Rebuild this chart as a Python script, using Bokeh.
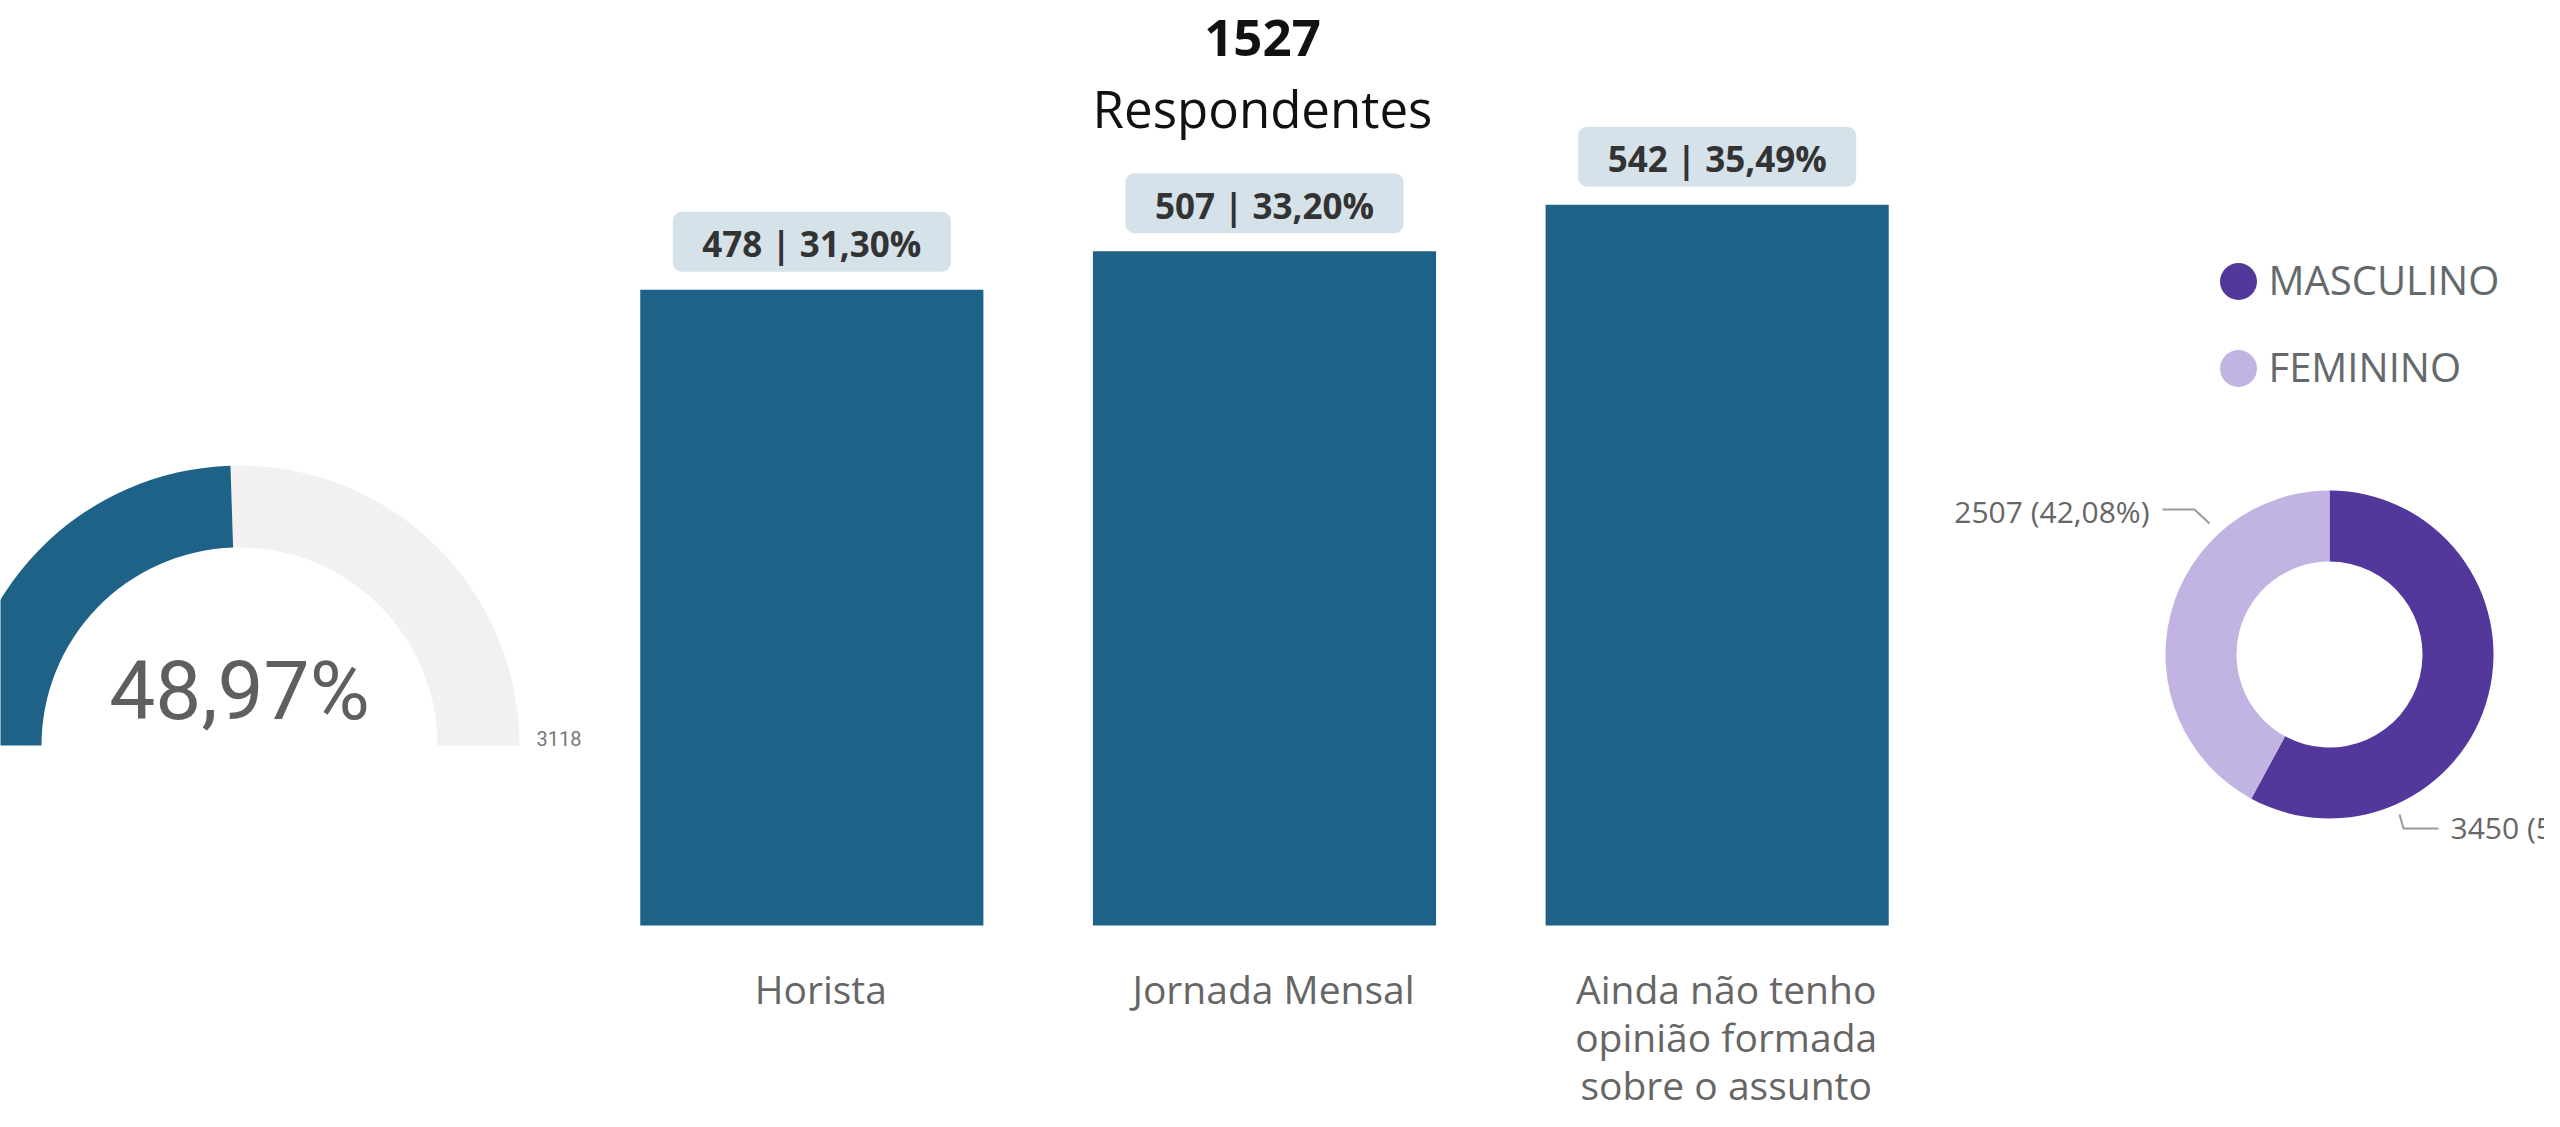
import math
from bokeh.plotting import figure
from bokeh.layouts import row
from bokeh.models import Range1d, FactorRange, ColumnDataSource
from bokeh.core.properties import value
from bokeh.embed import file_html
from bokeh.resources import INLINE

# ---------------- data ----------------
gauge_value = 1527
gauge_max = 3118

categories = ["Horista", "Jornada Mensal", "Ainda não tenho opinião formada sobre o assunto"]
category_lines = [["Horista"], ["Jornada Mensal"], ["Ainda não tenho", "opinião formada", "sobre o assunto"]]
counts = [478, 507, 542]
title_caption = "Respondentes"

genders = ["MASCULINO", "FEMININO"]
gender_counts = [3450, 2507]

# ---------------- styles ----------------
TEAL = "#1f6287"
GAUGE_BG = "#f2f1f0"
BOX = "#d6e2e9"
PURPLE = ["#52389a", "#c2b4e2"]
GRAY_TXT = "#666666"

H = 1111
W1, W2, W3 = 585, 1358, 601
BL = 0.4   # baseline correction (fraction of font size)


def br(x, nd=2):
    return f"{x:.{nd}f}".replace(".", ",")


def canvas(w, xr, yr):
    p = figure(width=w, height=H, x_range=xr, y_range=yr, output_backend="svg",
               toolbar_location=None, min_border=0, x_axis_type=None, y_axis_type=None)
    p.outline_line_color = None
    p.background_fill_color = "white"
    p.border_fill_color = "white"
    return p


# ---------------- gauge ----------------
g = canvas(W1, Range1d(0, W1), Range1d(0, H))
frac = gauge_value / gauge_max
gcx, gcy = 239, 366
split = math.pi * (1 - frac)
g.annular_wedge(x=[gcx, gcx], y=[gcy, gcy], inner_radius=198, outer_radius=280,
                start_angle=[0, split], end_angle=[split, math.pi],
                fill_color=[GAUGE_BG, TEAL], line_color=None)
g.text(x=[gcx], y=[gcy + 22 + BL * 82], text=[br(frac * 100) + "%"], text_font=value("Roboto"),
       text_font_size="82px", text_align="center", text_baseline="alphabetic",
       text_color="#5f5f5f")
g.text(x=[gcx + 297], y=[gcy - 1 + BL * 20], text=[str(gauge_max)], text_font=value("Roboto"),
       text_font_size="20px", text_align="left", text_baseline="alphabetic",
       text_color="#777777")

# ---------------- bars ----------------
K = 1.33        # px per unit
BASE = 925      # px from figure top to y = 0
b = canvas(W2, FactorRange(factors=categories, range_padding=0),
           Range1d(-(H - BASE) / K, BASE / K))
total = sum(counts)
b.vbar(x=categories, top=counts, width=0.758, fill_color=TEAL, line_color=None)
b.rect(x=categories, y=[c + 48 / K for c in counts], width=278, height=60,
       width_units="screen", height_units="screen", fill_color=BOX, line_color=None,
       border_radius=9)
bar_labels = [f"{c} | {br(c / total * 100)}%" for c in counts]
b.text(x=categories, y=counts, text=bar_labels, y_offset=-(32 + BL * 35),
       text_font=value("Open Sans"), text_font_style="bold", text_font_size="35px",
       text_align="center", text_baseline="alphabetic", text_color="#333333")

xs, txt, offs = [], [], []
for cat, lines in zip(categories, category_lines):
    for i, ln in enumerate(lines):
        xs.append(cat)
        txt.append(ln)
        offs.append(79 - BL * 39 + i * 48)
cat_src = ColumnDataSource(dict(x=xs, text=txt, yo=offs, y=[0] * len(xs)))
b.text(x="x", y="y", text="text", y_offset="yo", x_offset=9, source=cat_src,
       text_font=value("Open Sans"), text_font_size="39px", text_align="center",
       text_baseline="alphabetic", text_color=GRAY_TXT)

b.text(x=[categories[1]], y=[(BASE - 58 + BL * 51) / K], text=[str(total)], x_offset=-2,
       text_font=value("Open Sans"), text_font_style="bold", text_font_size="51px",
       text_align="center", text_baseline="alphabetic", text_color="#111111")
b.text(x=[categories[1]], y=[(BASE - 128 + BL * 51) / K], text=[title_caption], x_offset=-2,
       text_font=value("Open Sans"), text_font_size="51px",
       text_align="center", text_baseline="alphabetic", text_color="#111111")

# ---------------- donut ----------------
d = canvas(W3, Range1d(0, W3), Range1d(0, H))
dcx, dcy = 386, 457
gtot = sum(gender_counts)
starts, ends = [], []
acc = 0.0
for v in gender_counts:
    starts.append(math.pi / 2 - 2 * math.pi * acc)
    acc += v / gtot
    ends.append(math.pi / 2 - 2 * math.pi * acc)
d.annular_wedge(x=[dcx] * 2, y=[dcy] * 2, inner_radius=93, outer_radius=164,
                start_angle=starts, end_angle=ends, direction="clock",
                fill_color=PURPLE, line_color=None)

# legend
leg_y = [830 - 87 * i for i in range(len(genders))]
d.scatter(x=[295] * len(genders), y=leg_y, size=37, fill_color=PURPLE, line_color=None)
d.text(x=[325] * len(genders), y=[yy - 14 + BL * 40 for yy in leg_y], text=genders,
       text_font=value("Open Sans"), text_font_size="40px", text_align="left",
       text_baseline="alphabetic", text_color="#646a6c")

# slice labels with leader lines
g_labels = [f"{v} ({br(v / gtot * 100)}%)" for v in gender_counts]
d.line(x=[456, 460, 495], y=[297, 283, 283], line_color="#9a9a9a", line_width=2)
d.line(x=[219, 251, 266], y=[602, 602, 588], line_color="#9a9a9a", line_width=2)
d.text(x=[507], y=[272 + BL * 30], text=[g_labels[0]], text_font=value("Open Sans"),
       text_font_size="30px", text_align="left", text_baseline="alphabetic",
       text_color=GRAY_TXT)
d.text(x=[206], y=[588 + BL * 30], text=[g_labels[1]], text_font=value("Open Sans"),
       text_font_size="30px", text_align="right", text_baseline="alphabetic",
       text_color=GRAY_TXT)

layout = row(g, b, d)
open("out.html", "w").write(file_html(layout, INLINE))
